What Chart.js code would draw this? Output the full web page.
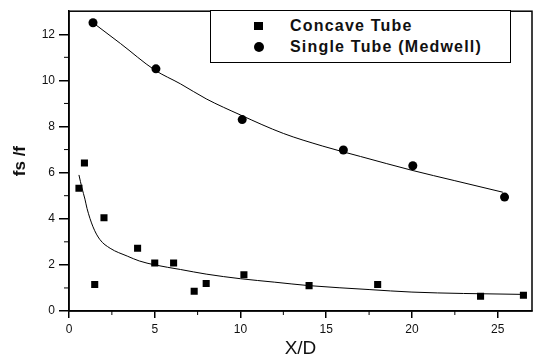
<!DOCTYPE html>
<html>
<head>
<meta charset="utf-8">
<script src="https://cdn.jsdelivr.net/npm/chart.js@4/dist/chart.umd.min.js"></script>
<style>
    html, body { margin: 0; padding: 0; background: #fff; }
    #wrap { position: relative; width: 537px; height: 364px; }
    #legendBox {
        position: absolute; left: 210px; top: 10px; width: 301px; height: 53px;
        border: 1px solid #000; box-sizing: border-box; background: #fff;
        font-family: "Liberation Sans", Arial, sans-serif; font-size: 16px; font-weight: bold;
        letter-spacing: 1.2px; color: #111;
    }
    .item { position: absolute; left: 0; height: 20px; line-height: 20px; }
    .item span { position: absolute; left: 79px; white-space: nowrap; }
    .mk { position: absolute; background: #000; }
</style>
</head>
<body>
<div id="wrap">
    <canvas id="chart" width="537" height="364"></canvas>
    <div id="legendBox">
        <div class="item" style="top:5px"><div class="mk" style="left:43px;top:6px;width:9px;height:8px"></div><span>Concave Tube</span></div>
        <div class="item" style="top:26px"><div class="mk" style="left:43px;top:5px;width:10px;height:10px;border-radius:50%"></div><span>Single Tube (Medwell)</span></div>
    </div>
</div>
<script>
// measured points
const concaveX = [0.58, 0.9, 1.5, 2.04, 4.0, 5.0, 6.1, 7.3, 8.0, 10.2, 14.0, 18.0, 24.0, 26.5];
const concaveY = [5.32, 6.42, 1.15, 4.04, 2.72, 2.08, 2.08, 0.86, 1.19, 1.57, 1.1, 1.15, 0.64, 0.68];
const medwellX = [1.4, 5.07, 10.1, 16.0, 20.05, 25.4];
const medwellY = [12.5, 10.5, 8.3, 6.98, 6.3, 4.94];

// fitted curves
const concaveFitX = [0.58, 0.75, 0.93, 1.05, 1.4, 1.8, 2.4, 3.4, 4.1, 5, 6.5, 8, 10, 12, 14, 17.5, 20, 23, 26.5];
const concaveFitY = [5.9, 5.35, 4.85, 4.45, 3.65, 3.1, 2.72, 2.38, 2.17, 2.0, 1.8, 1.6, 1.4, 1.25, 1.1, 0.93, 0.82, 0.76, 0.72];
const medwellFitX = [1.4, 3, 5, 6.5, 8, 10, 12.5, 14.8, 17, 20, 22.5, 25.3];
const medwellFitY = [12.5, 11.6, 10.45, 9.85, 9.2, 8.5, 7.7, 7.15, 6.7, 6.1, 5.65, 5.15];

const xTicks = [0, 5, 10, 15, 20, 25];
const yTicks = [0, 2, 4, 6, 8, 10, 12];
const xMinor = [2.5, 7.5, 12.5, 17.5, 22.5];
const yMinor = [1, 3, 5, 7, 9, 11];

function pts(xs, ys) {
    return xs.map((x, i) => ({ x: x, y: ys[i] }));
}

// frame + minor ticks
const framePlugin = {
    id: 'frame',
    afterDraw(chart) {
        const ctx = chart.ctx;
        const a = chart.chartArea;
        const xs = chart.scales.x, ys = chart.scales.y;
        ctx.save();
        ctx.strokeStyle = '#000';
        ctx.lineWidth = 1.5;
        ctx.strokeRect(a.left, a.top, a.right - a.left, a.bottom - a.top);
        ctx.lineWidth = 1;
        ctx.beginPath();
        xMinor.forEach(v => {
            const px = xs.getPixelForValue(v);
            ctx.moveTo(px, a.bottom);
            ctx.lineTo(px, a.bottom + 4);
        });
        yMinor.forEach(v => {
            const py = ys.getPixelForValue(v);
            ctx.moveTo(a.left, py);
            ctx.lineTo(a.left - 5, py);
        });
        ctx.stroke();
        ctx.restore();
    }
};

const tickFont = { family: '"Liberation Sans", Arial, sans-serif', size: 12 };

new Chart(document.getElementById('chart'), {
    type: 'scatter',
    data: {
        datasets: [
            {
                label: 'Concave Tube',
                data: pts(concaveX, concaveY),
                pointStyle: 'rect',
                pointRadius: 5,
                backgroundColor: '#000',
                borderColor: '#000',
                borderWidth: 0
            },
            {
                label: 'Single Tube (Medwell)',
                data: pts(medwellX, medwellY),
                pointStyle: 'circle',
                pointRadius: 4.5,
                backgroundColor: '#000',
                borderColor: '#000',
                borderWidth: 0
            },
            {
                label: 'concave fit',
                data: pts(concaveFitX, concaveFitY),
                showLine: true,
                pointRadius: 0,
                borderColor: '#000',
                borderWidth: 1,
                cubicInterpolationMode: 'monotone'
            },
            {
                label: 'medwell fit',
                data: pts(medwellFitX, medwellFitY),
                showLine: true,
                pointRadius: 0,
                borderColor: '#000',
                borderWidth: 1,
                cubicInterpolationMode: 'monotone'
            }
        ]
    },
    options: {
        responsive: false,
        animation: false,
        layout: { padding: { left: 6, top: 5, right: 4, bottom: 0 } },
        plugins: {
            legend: { display: false },
            tooltip: { enabled: false }
        },
        scales: {
            x: {
                type: 'linear',
                min: 0,
                max: 27,
                afterBuildTicks: s => { s.ticks = xTicks.map(v => ({ value: v })); },
                afterFit: s => { s.height = 53; },
                grid: { drawOnChartArea: false, tickLength: 7, color: '#000', lineWidth: 1.5 },
                border: { color: '#000', width: 1.5 },
                ticks: { color: '#111', font: tickFont, padding: 4, maxRotation: 0 },
                title: { display: true, text: 'X/D', color: '#111', padding: { top: 4 },
                         font: { family: '"Liberation Sans", Arial, sans-serif', size: 19 } }
            },
            y: {
                min: 0,
                max: 13,
                afterBuildTicks: s => { s.ticks = yTicks.map(v => ({ value: v })); },
                afterFit: s => { s.width = 63; },
                grid: { drawOnChartArea: false, tickLength: 10, color: '#000', lineWidth: 1.5 },
                border: { color: '#000', width: 1.5 },
                ticks: { color: '#111', font: tickFont, padding: 4 },
                title: { display: true, text: 'fs /f', color: '#111', padding: { bottom: 8 },
                         font: { family: '"Liberation Sans", Arial, sans-serif', size: 17, weight: 'bold' } }
            }
        }
    },
    plugins: [framePlugin]
});
</script>
</body>
</html>
